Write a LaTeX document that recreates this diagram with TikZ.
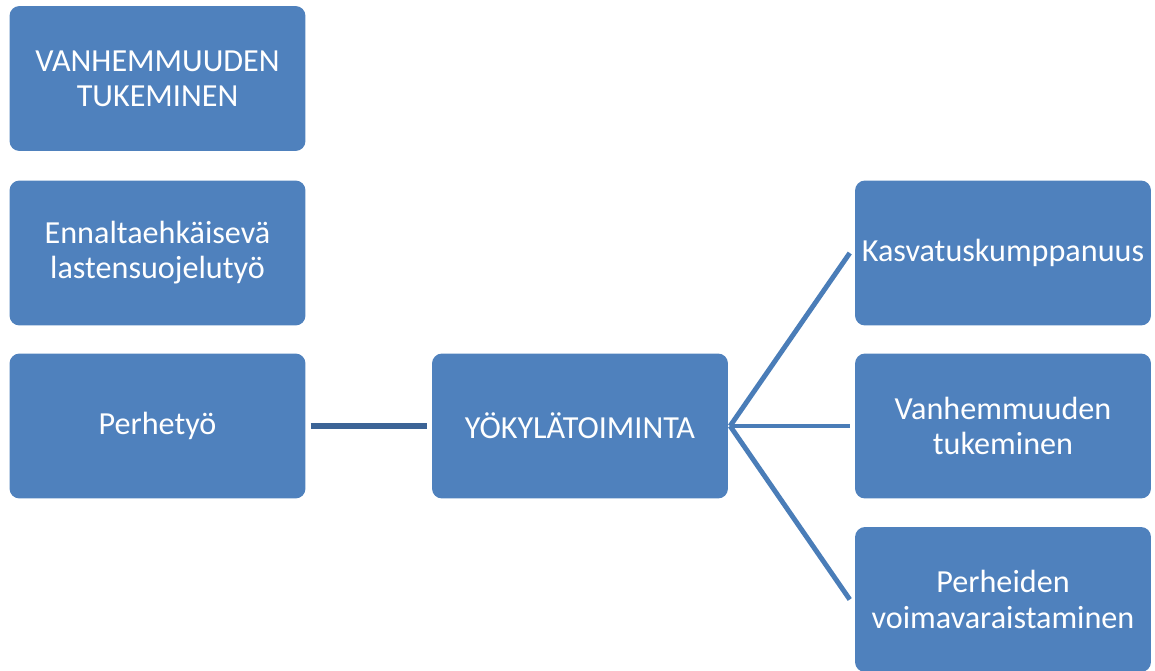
\documentclass[tikz,border=0pt]{standalone}
\usepackage{fontspec}
\setmainfont{Carlito}
\usepackage{xcolor}
\usetikzlibrary{calc, positioning}
\definecolor{boxblue}{HTML}{4F81BD}
\definecolor{linkdark}{HTML}{3C6496}
\definecolor{linkblue}{HTML}{4A7DB8}

\begin{document}
\begin{tikzpicture}[x=0.02cm, y=-0.02cm,
    box/.style={fill=boxblue, rounded corners=0.2cm, minimum width=5.92cm,
        minimum height=2.9cm, inner sep=0pt, align=center, text=white,
        font=\fontsize{18.3}{20}\selectfont},
    link/.style={linkblue, line width=2.8pt}]
    % 1. Khung hình
    \useasboundingbox (0,0) rectangle (1155,670);

    % 2. Cột bên trái
    \node[box] (vanhemmuus) at (157.5, 78.5) {VANHEMMUUDEN\\TUKEMINEN};
    \node[box] (ennalta) at (157.5, 253) {Ennaltaehkäisevä\\lastensuojelutyö};
    \node[box] (perhetyo) at (157.5, 426) {Perhetyö};

    % 3. Ô ở giữa
    \node[box] (yokyla) at (580, 426) {YÖKYLÄTOIMINTA};

    % 4. Cột bên phải
    \node[box] (kasvatus) at (1003, 253) {Kasvatuskumppanuus};
    \node[box] (tukeminen) at (1003, 426) {Vanhemmuuden\\tukeminen};
    \node[box] (voimavara) at (1003, 599.5) {Perheiden\\voimavaraistaminen};

    % 5. Các đường nối
    \draw[linkdark, line width=2.9pt, shorten <=2.8pt, shorten >=2.8pt] (perhetyo) -- (yokyla);
    \draw[link] ([xshift=1pt]yokyla.east) -- ([xshift=-2.8pt]kasvatus.west);
    \draw[link] ([xshift=1pt]yokyla.east) -- ([xshift=-2.8pt]tukeminen.west);
    \draw[link] ([xshift=1pt]yokyla.east) -- ([xshift=-2.8pt]voimavara.west);

\end{tikzpicture}
\end{document}
